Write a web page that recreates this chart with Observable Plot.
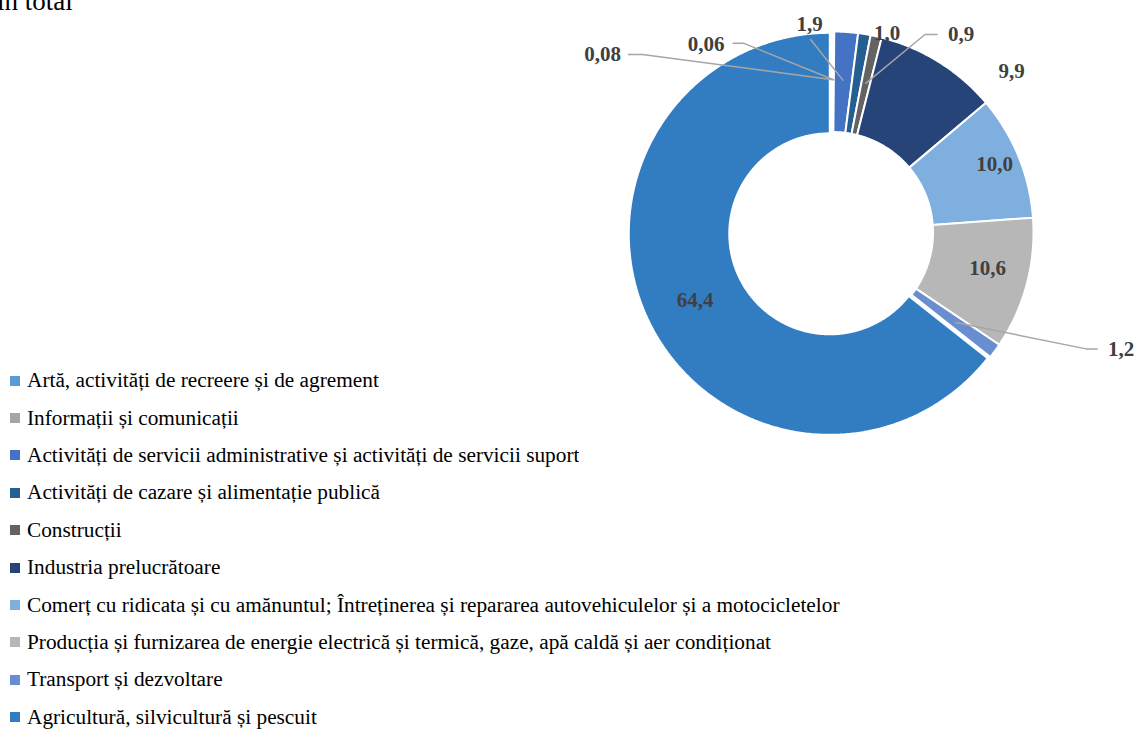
<!DOCTYPE html>
<html>
<head>
<meta charset="utf-8">
<script src="https://cdn.jsdelivr.net/npm/d3@7"></script>
<script src="https://cdn.jsdelivr.net/npm/@observablehq/plot@0.6"></script>
<style>
  body { margin: 0; background: #fff; }
  #wrap { position: relative; width: 1137px; height: 730px; overflow: hidden; font-family: "Liberation Serif", "Times New Roman", serif; }
  #title { position: absolute; left: -3px; top: -12px; font-size: 27px; line-height: 27px; color: #000; white-space: nowrap; }
  #chart { position: absolute; left: 0; top: 0; }
  #legend { position: absolute; left: 10px; top: 362px; width: 1000px; }
  .lg-swatch { height: 37.4px; padding-bottom: 0 !important; }
  .lg-swatch > svg { margin-right: 7px !important; }
</style>
</head>
<body>
<div id="wrap">
  <div id="title">în total</div>
  <div id="chart"></div>
  <div id="legend"></div>
</div>
<script>
// ---- data ----
const categories = [
  "Artă, activități de recreere și de agrement",
  "Informații și comunicații",
  "Activități de servicii administrative și activități de servicii suport",
  "Activități de cazare și alimentație publică",
  "Construcții",
  "Industria prelucrătoare",
  "Comerț cu ridicata și cu amănuntul; Întreținerea și repararea autovehiculelor și a motocicletelor",
  "Producția și furnizarea de energie electrică și termică, gaze, apă caldă și aer condiționat",
  "Transport și dezvoltare",
  "Agricultură, silvicultură și pescuit"
];
const values = [0.08, 0.06, 1.9, 1.0, 0.9, 9.9, 10.0, 10.6, 1.2, 64.4];
const valueLabels = ["0,08", "0,06", "1,9", "1,0", "0,9", "9,9", "10,0", "10,6", "1,2", "64,4"];
const colors = ["#5B9BD5", "#A5A5A5", "#4472C4", "#255E91", "#636363", "#264478", "#7FAFDE", "#B7B7B7", "#698ED0", "#327DC2"];

// ---- layout (donut geometry in units of outer radius) ----
const R_IN = 0.5, R_OUT = 1, R_LEADER = 0.76;
const explode = [0, 0, 0, 0, 0, 0, 0, 0, 0, 0.015];
// label positions and leader elbows (units of outer radius, origin at donut centre)
const labelLayout = [
  {u: -1.144, v: 0.886, leader: [[-0.946, 0.886], [-1.015, 0.886]]},
  {u: -0.629, v: 0.936, leader: [[-0.441, 0.941], [-0.495, 0.941]]},
  {u: -0.114, v: 1.035, leader: [[-0.109, 0.960]]},
  {u: 0.272, v: 0.990, leader: null},
  {u: 0.640, v: 0.985, leader: [[0.460, 0.985], [0.520, 0.985]]},
  {u: 0.891, v: 0.802, leader: null},
  {u: 0.807, v: 0.337, leader: null},
  {u: 0.772, v: -0.178, leader: null},
  {u: 1.436, v: -0.579, leader: [[1.262, -0.579], [1.317, -0.579]]},
  {u: -0.683, v: -0.337, leader: null}
];

// ---- build slice polygons from the values ----
const total = d3.sum(values);
const slicePts = [];
const leaderPts = [];
const labelData = [];
let cum = 0;
values.forEach((val, i) => {
  const a0 = cum / total * 2 * Math.PI;
  cum += val;
  const a1 = cum / total * 2 * Math.PI;
  const mid = (a0 + a1) / 2;
  const ox = explode[i] * Math.sin(mid), oy = explode[i] * Math.cos(mid);
  const n = Math.max(2, Math.ceil((a1 - a0) * 180 / Math.PI * 2));
  const pts = [];
  for (let k = 0; k <= n; k++) {
    const a = a0 + (a1 - a0) * k / n;
    pts.push([R_OUT * Math.sin(a) + ox, R_OUT * Math.cos(a) + oy]);
  }
  for (let k = n; k >= 0; k--) {
    const a = a0 + (a1 - a0) * k / n;
    pts.push([R_IN * Math.sin(a) + ox, R_IN * Math.cos(a) + oy]);
  }
  pts.push(pts[0]);
  pts.forEach(([x, y]) => slicePts.push({cat: categories[i], x, y}));

  const L = labelLayout[i];
  labelData.push({text: valueLabels[i], x: L.u, y: L.v});
  if (L.leader) {
    leaderPts.push({id: i, x: R_LEADER * Math.sin(mid) + ox, y: R_LEADER * Math.cos(mid) + oy});
    L.leader.forEach(([x, y]) => leaderPts.push({id: i, x, y}));
  }
});

const chart = Plot.plot({
  width: 1137,
  height: 730,
  margin: 0,
  x: {domain: [-1, 1], range: [631, 1033], axis: null},
  y: {domain: [-1, 1], range: [433, 31], axis: null},
  color: {domain: categories, range: colors},
  style: {background: "transparent", overflow: "visible"},
  marks: [
    Plot.line(slicePts, {x: "x", y: "y", z: "cat", fill: "cat", stroke: "white", strokeWidth: 2, curve: "linear", strokeLinejoin: "miter"}),
    Plot.line(leaderPts, {x: "x", y: "y", z: "id", stroke: "#A6A6A6", strokeWidth: 1.5, curve: "linear"}),
    Plot.text(labelData, {x: "x", y: "y", text: "text", fill: "#404040", fontWeight: "bold", fontSize: 21, fontFamily: "Liberation Serif"})
  ]
});
document.getElementById("chart").appendChild(chart);

const legend = chart.legend("color", {
  columns: 1,
  swatchSize: 10,
  className: "lg"
});
document.getElementById("legend").appendChild(legend);
[legend, ...legend.querySelectorAll("*")].forEach(el => {
  el.style.setProperty("font-family", "'Liberation Serif', 'Times New Roman', serif", "important");
  el.style.setProperty("font-size", "21.3px", "important");
  el.style.setProperty("color", "#000", "important");
});
</script>
</body>
</html>
